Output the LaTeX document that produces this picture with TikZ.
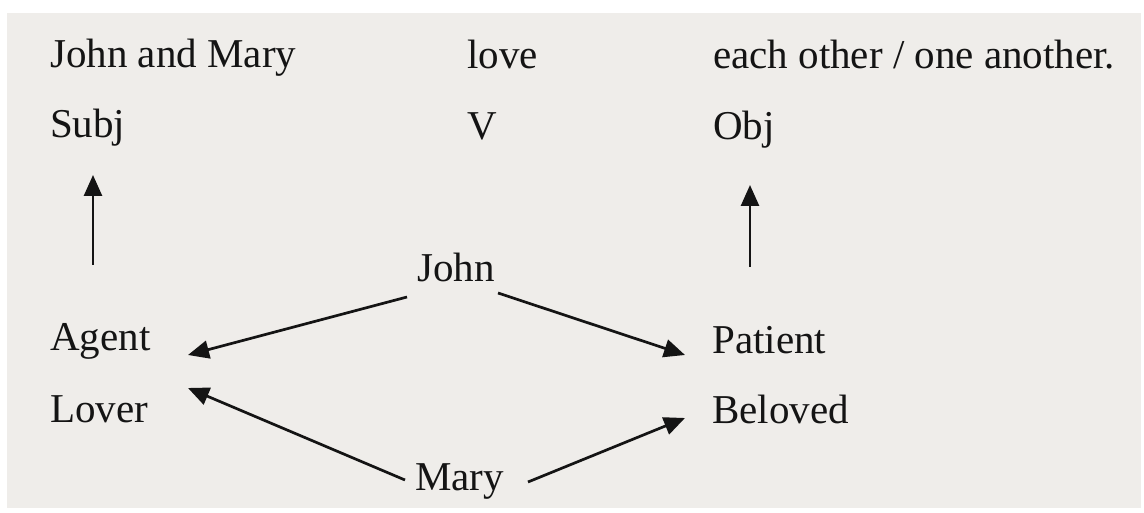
\documentclass[tikz,border=0pt]{standalone}
\usepackage{fontspec}
\setmainfont{Liberation Serif}
\usetikzlibrary{arrows.meta}
\definecolor{paper}{HTML}{EFEDEA}
\definecolor{ink}{HTML}{141414}

\begin{document}
\begin{tikzpicture}[x=1pt, y=-1pt,
    word/.style={anchor=base west, inner sep=0pt, text=ink, font=\fontsize{41}{48}\selectfont},
    arr/.style={draw=ink, line width=2.7pt, -{Triangle[length=21pt, width=18pt]}}]
    \useasboundingbox (0, 0) rectangle (1144, 513);
    \fill[white] (0, 0) rectangle (1144, 513);
    \fill[paper] (7, 13) rectangle (1141, 508);
    % sentence and functions
    \node[word] (jm) at (50, 68) {John and Mary};
    \node[word] (love) at (467, 69) {love};
    \node[word] (eo) at (713, 69) {each other / one another.};
    \node[word] (subj) at (50, 138) {Subj};
    \node[word] (verb) at (467, 140) {V};
    \node[word] (obj) at (713, 140) {Obj};
    % roles
    \node[word] (john) at (417, 282) {John};
    \node[word] (mary) at (415, 490) {Mary};
    \node[word] (agent) at (50, 350) {Agent};
    \node[word] (lover) at (50, 422) {Lover};
    \node[word] (patient) at (712, 353) {Patient};
    \node[word] (beloved) at (712, 423) {Beloved};
    % arrow ends
    \coordinate (subjTip) at ([shift={(43, 37)}]subj.base west);
    \coordinate (agentTop) at ([shift={(43, -85)}]agent.base west);
    \coordinate (objTip) at ([shift={(37, 45)}]obj.base west);
    \coordinate (patientTop) at ([shift={(38, -86)}]patient.base west);
    \coordinate (johnL) at ([shift={(-10, 15)}]john.base west);
    \coordinate (johnR) at ([shift={(81, 11)}]john.base west);
    \coordinate (maryL) at ([shift={(-10, -10)}]mary.base west);
    \coordinate (maryR) at ([shift={(113, -8)}]mary.base west);
    \coordinate (agentTip) at ([shift={(138, 5)}]agent.base west);
    \coordinate (loverTip) at ([shift={(138, -34)}]lover.base west);
    \coordinate (patientTip) at ([shift={(-27, 2)}]patient.base west);
    \coordinate (belovedTip) at ([shift={(-27, -5)}]beloved.base west);
    \draw[arr] (agentTop) -- (subjTip);
    \draw[arr] (patientTop) -- (objTip);
    \draw[arr] (johnL) -- (agentTip);
    \draw[arr] (johnR) -- (patientTip);
    \draw[arr] (maryL) -- (loverTip);
    \draw[arr] (maryR) -- (belovedTip);
\end{tikzpicture}
\end{document}
